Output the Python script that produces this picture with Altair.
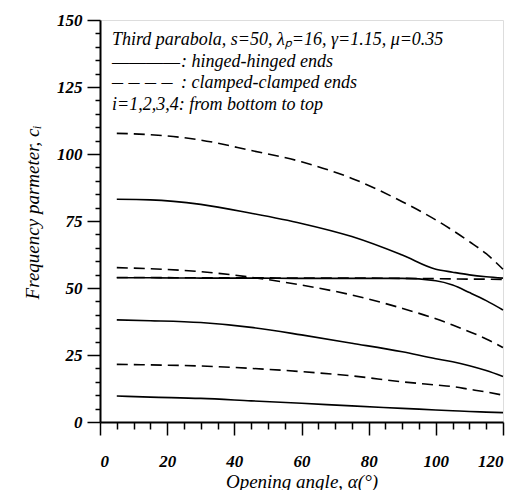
import altair as alt
import pandas as pd

angles = [5, 15, 30, 45, 60, 75, 90, 100, 105, 110, 115, 120]

hinged = {
    "h1": [9.7, 9.3, 8.8, 7.9, 7.0, 6.0, 5.1, 4.5, 4.2, 3.9, 3.7, 3.5],
    "h2": [38.1, 37.8, 37.1, 35.3, 32.5, 29.4, 26.2, 23.6, 22.5, 21.0, 19.2, 17.0],
    "h3": [53.8, 53.8, 53.7, 53.7, 53.6, 53.6, 53.6, 52.7, 51.1, 48.3, 45.3, 41.8],
    "h4": [83.1, 82.9, 81.2, 77.9, 74.1, 69.2, 62.3, 57.0, 55.9, 54.9, 54.2, 53.7],
}
clamped = {
    "c1": [21.5, 21.3, 20.9, 20.0, 18.8, 17.2, 15.0, 13.8, 13.2, 12.2, 11.2, 10.0],
    "c2": [53.9, 53.9, 53.8, 53.8, 53.7, 53.7, 53.6, 53.5, 53.4, 53.3, 53.3, 53.2],
    "c3": [57.6, 57.2, 56.1, 54.0, 51.1, 47.4, 42.4, 38.5, 36.2, 33.7, 31.0, 27.8],
    "c4": [107.7, 107.2, 105.2, 101.3, 97.1, 90.9, 82.2, 75.4, 71.5, 67.3, 62.8, 57.0],
}

title_note = "Third parabola, s=50, λₚ=16, γ=1.15, μ=0.35"
key_labels = [": hinged-hinged ends", ": clamped-clamped ends"]
solid_sample = "————"
dashed_sample = "– – – –"
order_note = "i=1,2,3,4: from bottom to top"

x_ticks = list(range(0, 121, 5))
y_ticks = list(range(0, 151, 5))

rows = []
for style, group in (("clamped", clamped), ("hinged", hinged)):
    for name, vals in group.items():
        for a, v in zip(angles, vals):
            rows.append({"series": name, "style": style, "angle": a, "value": v})
df = pd.DataFrame(rows)

FONT = "Liberation Serif"

xscale = alt.Scale(domain=[0, 120], nice=False)
yscale = alt.Scale(domain=[0, 150], nice=False)

xaxis = alt.Axis(
    values=x_ticks,
    labelExpr="datum.value % 20 === 0 ? datum.label : ''",
    labelOverlap=False,
    tickSize={"condition": {"test": "datum.value % 20 === 0", "value": 13}, "value": 7},
    tickColor="black", tickWidth=1.5, domainColor="black", domainWidth=2,
    labelFont=FONT, labelFontSize=17, labelFontStyle="italic", labelFontWeight="bold",
    labelColor="black", labelPadding=18, grid=False,
    title="Opening angle, α(°)", titleFont=FONT, titleFontSize=19,
    titleFontStyle="italic", titleFontWeight="normal", titleColor="black",
    titleY=59, titleBaseline="middle",
)
yaxis = alt.Axis(
    values=y_ticks,
    labelExpr="datum.value % 25 === 0 ? datum.label : ''",
    labelOverlap=False,
    tickSize={"condition": {"test": "datum.value % 25 === 0", "value": 13}, "value": 5},
    tickColor="black", tickWidth=1.5, domainColor="black", domainWidth=2,
    labelFont=FONT, labelFontSize=17, labelFontStyle="italic", labelFontWeight="bold",
    labelColor="black", labelPadding=5, grid=False,
    title="Frequency parmeter, cᵢ", titleFont=FONT, titleFontSize=19,
    titleFontStyle="italic", titleFontWeight="normal", titleColor="black",
    titleX=-68, titleY=192, titleBaseline="middle",
)

base = alt.Chart(df)
enc = dict(
    x=alt.X("angle:Q", scale=xscale, axis=xaxis),
    y=alt.Y("value:Q", scale=yscale, axis=yaxis),
    detail="series:N",
)
dashed = base.transform_filter(alt.datum.style == "clamped").mark_line(
    color="black", strokeWidth=1.6, strokeDash=[11, 6], interpolate="monotone"
).encode(**enc)
solid = base.transform_filter(alt.datum.style == "hinged").mark_line(
    color="black", strokeWidth=1.6, interpolate="monotone"
).encode(**enc)

one = pd.DataFrame({"t": [0]})
txt_style = dict(align="left", baseline="alphabetic", font=FONT, fontSize=18,
                 fontStyle="italic", color="black", lineHeight=21.5)

t1 = alt.Chart(one).mark_text(**txt_style).encode(
    x=alt.value(12), y=alt.value(25), text=alt.value(title_note))
t2 = alt.Chart(one).mark_text(**txt_style).encode(
    x=alt.value(81), y=alt.value(46.5), text=alt.value(key_labels))
t3 = alt.Chart(one).mark_text(
    align="left", baseline="alphabetic", font=FONT, fontSize=17, color="black",
).encode(x=alt.value(12), y=alt.value(46.5), text=alt.value(solid_sample))
t3b = alt.Chart(one).mark_text(
    align="left", baseline="alphabetic", font=FONT, fontSize=22, color="black",
).encode(x=alt.value(12), y=alt.value(69), text=alt.value(dashed_sample))
t4 = alt.Chart(one).mark_text(**txt_style).encode(
    x=alt.value(12), y=alt.value(89.5), text=alt.value(order_note))

chart = alt.layer(dashed, solid, t1, t2, t3, t3b, t4).properties(
    width=403, height=402,
    padding={"left": 92, "top": 12, "right": 9, "bottom": 68},
    autosize=alt.AutoSizeParams(type="none"),
).configure_view(stroke="black", strokeWidth=1.5).configure(background="white")

chart.save("out.html", embed_options={"renderer": "svg", "actions": False})
